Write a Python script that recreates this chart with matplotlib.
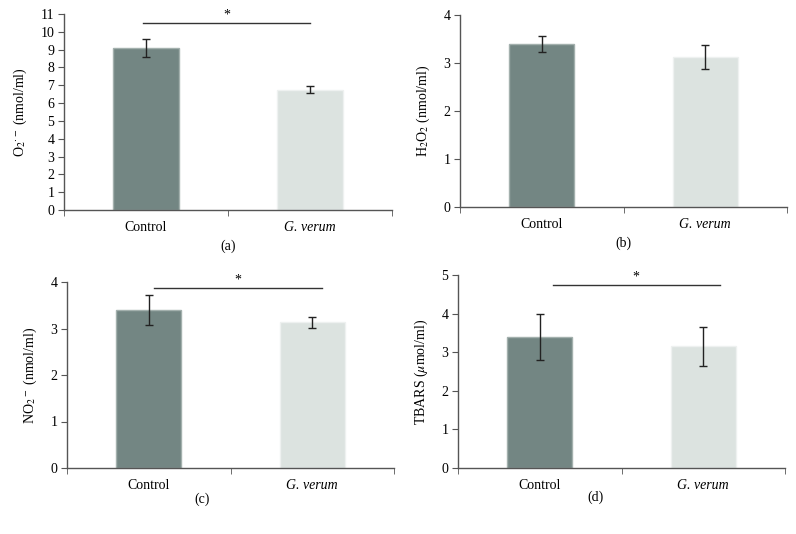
import matplotlib.pyplot as plt

plt.rcParams['font.family'] = ['Liberation Serif', 'DejaVu Serif']
plt.rcParams['mathtext.fontset'] = 'stix'

groups = ["Control", "G. verum"]

o2_mean = [9.1, 6.75]
o2_err = [0.5, 0.2]
h2o2_mean = [3.4, 3.13]
h2o2_err = [0.17, 0.25]
no2_mean = [3.4, 3.13]
no2_err = [0.33, 0.11]
tbars_mean = [3.4, 3.15]
tbars_err = [0.6, 0.5]

bar_colors = ["#738683", "#dce3e0"]
edge_colors = ["#a3b0ad", "#eef1f0"]
axis_color = "#555555"

W, H = 796, 534
fig = plt.figure(figsize=(W / 100, H / 100), dpi=100)


def px_axes(left, right, top, bottom):
    return fig.add_axes([left / W, 1 - bottom / H, (right - left) / W, (bottom - top) / H])


def draw_panel(ax, means, errs, ymax, ylabel, sig=None):
    x = [0, 1]
    ax.bar(x, means, width=0.4, color=bar_colors, edgecolor=edge_colors, linewidth=1.0, zorder=2)
    ax.errorbar(x, means, yerr=errs, fmt="none", ecolor="#222222", elinewidth=1.0,
                capsize=3, capthick=1.0, zorder=3)
    ax.set_xlim(-0.5, 1.5)
    ax.set_ylim(0, ymax)
    ax.set_yticks(range(0, ymax + 1))
    ax.set_xticks(x)
    ax.set_xticklabels(groups)
    ax.get_xticklabels()[1].set_fontstyle("italic")
    ax.set_xticks([-0.5, 0.5, 1.5], minor=True)
    ax.tick_params(axis="x", which="major", length=0, pad=8, labelsize=10)
    ax.tick_params(axis="x", which="minor", length=4, direction="out", color=axis_color)
    ax.tick_params(axis="y", length=4, direction="out", color=axis_color, labelsize=10, pad=3)
    for side in ["top", "right"]:
        ax.spines[side].set_visible(False)
    for side in ["left", "bottom"]:
        ax.spines[side].set_color(axis_color)
        ax.spines[side].set_linewidth(1.0)
    ax.set_ylabel(ylabel, fontsize=10, labelpad=8)
    if sig is not None:
        y, x0, x1 = sig
        ax.plot([x0, x1], [y, y], color="#333333", lw=1.0, clip_on=False)
        ax.annotate("*", xy=((x0 + x1) / 2, y), xytext=(0, 1), textcoords="offset points",
                    ha="center", va="bottom", fontsize=10, annotation_clip=False)


ax_a = px_axes(64, 392, 14, 210)
draw_panel(ax_a, o2_mean, o2_err, 11, r"O$_2$$^{\cdot-}$ (nmol/ml)", sig=(10.5, -0.02, 1.0))

ax_b = px_axes(460, 787, 15, 207)
draw_panel(ax_b, h2o2_mean, h2o2_err, 4, r"H$_2$O$_2$ (nmol/ml)")

ax_c = px_axes(67, 394, 282, 468)
draw_panel(ax_c, no2_mean, no2_err, 4, r"NO$_2$$^-$ (nmol/ml)", sig=(3.87, 0.03, 1.06))

ax_d = px_axes(458, 785, 275, 468)
draw_panel(ax_d, tbars_mean, tbars_err, 5, r"TBARS ($\mu$mol/ml)", sig=(4.74, 0.08, 1.1))

for label, (px, py) in zip(["(a)", "(b)", "(c)", "(d)"],
                           [(228, 246), (623, 243), (202, 499), (596, 497)]):
    fig.text(px / W, 1 - py / H, label, ha="center", va="center", fontsize=10)

fig.savefig("out.png", dpi=100)
